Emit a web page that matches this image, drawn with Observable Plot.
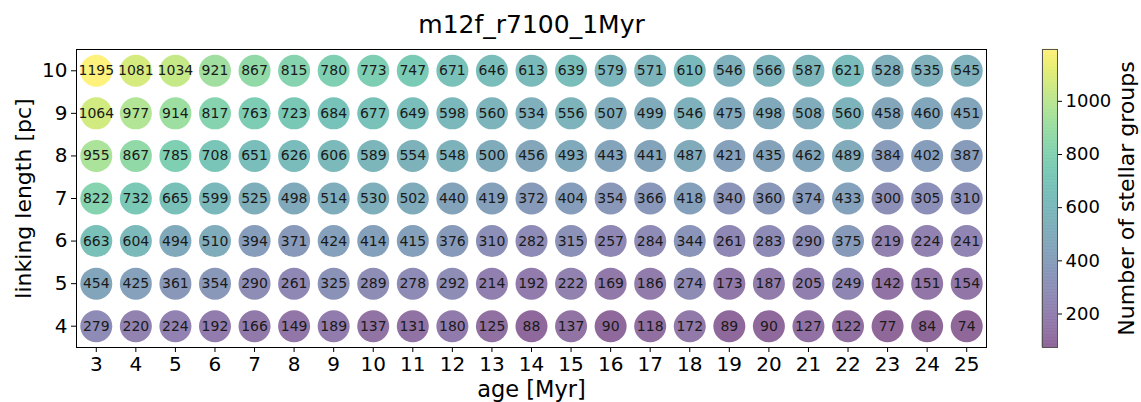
<!DOCTYPE html>
<html>
<head>
<meta charset="utf-8">
<script src="https://cdn.jsdelivr.net/npm/d3@7"></script>
<script src="https://cdn.jsdelivr.net/npm/@observablehq/plot@0.6"></script>
<style>
  html, body { margin: 0; padding: 0; background: #fff; }
  #wrap { position: relative; width: 1141px; height: 402px; }
  #wrap svg { position: absolute; left: 0; top: 0; font-family: "DejaVu Sans", sans-serif; }
</style>
</head>
<body>
<div id="wrap"></div>
<script>
const ages = [3,4,5,6,7,8,9,10,11,12,13,14,15,16,17,18,19,20,21,22,23,24,25];
const lengths = [10, 9, 8, 7, 6, 5, 4];
const row10 = [1195,1081,1034,921,867,815,780,773,747,671,646,613,639,579,571,610,546,566,587,621,528,535,545];
const row9  = [1064,977,914,817,763,723,684,677,649,598,560,534,556,507,499,546,475,498,508,560,458,460,451];
const row8  = [955,867,785,708,651,626,606,589,554,548,500,456,493,443,441,487,421,435,462,489,384,402,387];
const row7  = [822,732,665,599,525,498,514,530,502,440,419,372,404,354,366,418,340,360,374,433,300,305,310];
const row6  = [663,604,494,510,394,371,424,414,415,376,310,282,315,257,284,344,261,283,290,375,219,224,241];
const row5  = [454,425,361,354,290,261,325,289,278,292,214,192,222,169,186,274,173,187,205,249,142,151,154];
const row4  = [279,220,224,192,166,149,189,137,131,180,125,88,137,90,118,172,89,90,127,122,77,84,74];
const rows = [row10, row9, row8, row7, row6, row5, row4];
const cbTicks = [200, 400, 600, 800, 1000];
const title = "m12f_r7100_1Myr";
const xLabel = "age [Myr]";
const yLabel = "linking length [pc]";
const cbLabel = "Number of stellar groups";

const data = [];
rows.forEach((r, i) => r.forEach((v, j) => data.push({age: ages[j], len: lengths[i], value: v})));
const vmin = d3.min(data, d => d.value), vmax = d3.max(data, d => d.value);
const color = {type: "linear", scheme: "viridis", domain: [vmin, vmax]};
const fmt = d => String(d);

const W = 1141, H = 402;
const main = Plot.plot({
  width: W, height: H,
  marginLeft: 76, marginRight: 155, marginTop: 49, marginBottom: 55,
  style: {fontFamily: "DejaVu Sans, sans-serif", background: "transparent", overflow: "visible"},
  x: {domain: [2.5, 25.5]},
  y: {domain: [3.5, 10.5]},
  color,
  marks: [
    Plot.dot(data, {x: "age", y: "len", r: 16, fill: "value", fillOpacity: 0.6, stroke: null}),
    Plot.text(data, {x: "age", y: "len", text: d => String(d.value), fontSize: 14, fill: "#1a1a1a"}),
    Plot.frame({stroke: "#000", strokeWidth: 1}),
    Plot.axisX({ticks: ages, tickFormat: fmt, tickSize: 5, tickPadding: 4, fontSize: 20, label: null, fill: "#000"}),
    Plot.axisY({ticks: lengths, tickFormat: fmt, tickSize: 5, tickPadding: 4, fontSize: 20, label: null, fill: "#000"}),
    Plot.text([xLabel], {frameAnchor: "bottom", dy: 42, lineAnchor: "middle", textAnchor: "middle", text: d => d, fontSize: 22.5, fill: "#000"}),
    Plot.text([yLabel], {frameAnchor: "left", dx: -53, rotate: -90, lineAnchor: "middle", textAnchor: "middle", text: d => d, fontSize: 22, fill: "#000"}),
    Plot.text([title], {frameAnchor: "top", dy: -25, lineAnchor: "middle", textAnchor: "middle", text: d => d, fontSize: 25, fill: "#000"})
  ]
});

const nBands = 200;
const bands = d3.range(nBands).map(i => {
  const a = vmin + (vmax - vmin) * i / nBands, b = vmin + (vmax - vmin) * (i + 1) / nBands;
  return {y1: a, y2: b, v: (a + b) / 2};
});
const cb = Plot.plot({
  width: W, height: H,
  marginLeft: 1042, marginRight: 84, marginTop: 49, marginBottom: 55,
  style: {fontFamily: "DejaVu Sans, sans-serif", background: "transparent", overflow: "visible"},
  x: {domain: [0, 1], axis: null},
  y: {domain: [vmin, vmax]},
  color,
  marks: [
    Plot.rect(bands, {x1: 0, x2: 1, y1: "y1", y2: "y2", fill: "v", stroke: "v", strokeWidth: 0.6, ariaLabel: "colorbar"}),
    Plot.frame({stroke: "#555", strokeWidth: 1}),
    Plot.axisY({anchor: "right", ticks: cbTicks, tickFormat: fmt, tickSize: 4, tickPadding: 4, fontSize: 18, label: null, fill: "#000"}),
    Plot.text([cbLabel], {frameAnchor: "right", dx: 69, rotate: -90, lineAnchor: "middle", textAnchor: "middle", text: d => d, fontSize: 22, fill: "#000"})
  ]
});
// apply the 0.6 alpha to the colorbar as a whole, so overlapping band edges do not show
const bandGroup = cb.querySelector('g[aria-label="rect"]') || cb.querySelector('g[aria-label="colorbar"]');
if (bandGroup) bandGroup.setAttribute("opacity", 0.6);

const wrap = document.getElementById("wrap");
wrap.appendChild(main);
wrap.appendChild(cb);
</script>
</body>
</html>
